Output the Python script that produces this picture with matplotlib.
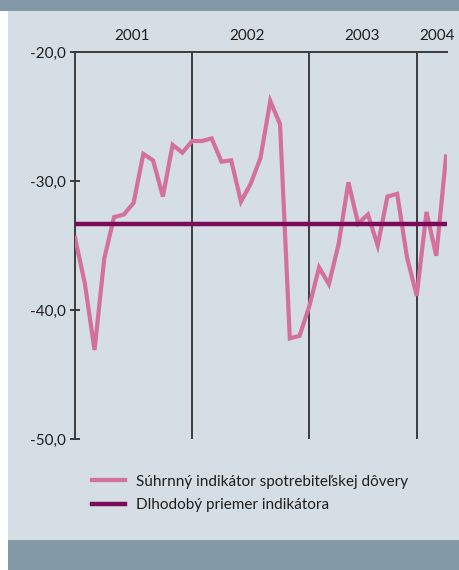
import matplotlib
matplotlib.use("Agg")
import matplotlib.pyplot as plt
from matplotlib.patches import Rectangle
from matplotlib.lines import Line2D

# ---- data ----
indicator = [-34.4, -37.9, -43.1, -36.0, -32.8, -32.6, -31.7, -27.9, -28.4, -31.2,
             -27.2, -27.8, -26.9, -26.9, -26.7, -28.5, -28.4, -31.6, -30.2, -28.2,
             -23.8, -25.6, -42.2, -42.0, -39.7, -36.7, -38.0, -34.9, -30.1, -33.3,
             -32.6, -35.0, -31.2, -31.0, -35.9, -38.9, -32.4, -35.8, -28.1]
long_term_mean = -33.3
year_labels = ["2001", "2002", "2003", "2004"]
year_starts = [12, 24, 35]
y_ticks = [-20.0, -30.0, -40.0, -50.0]
y_tick_labels = ["-20,0", "-30,0", "-40,0", "-50,0"]
legend_labels = ["Súhrnný indikátor spotrebiteľskej dôvery", "Dlhodobý priemer indikátora"]

# ---- style ----
PINK = "#d4709c"
PURPLE = "#7b0a57"
BG = "#d5dee5"
BAND = "#8399a7"
DARK = "#3c3c3c"
TXT = "#1e1e1e"
plt.rcParams['font.family'] = ['Lato', 'DejaVu Sans']
FS = 11

W, H = 459, 570
fig = plt.figure(figsize=(W / 100, H / 100), dpi=100, facecolor="white")

# background panels
fig.patches.append(Rectangle((0, 1 - 11 / H), 1, 11 / H, transform=fig.transFigure,
                             facecolor=BAND, edgecolor="none", zorder=-10))
fig.patches.append(Rectangle((8 / W, 30 / H), 1 - 8 / W, (H - 11 - 30) / H, transform=fig.transFigure,
                             facecolor=BG, edgecolor="none", zorder=-10))
fig.patches.append(Rectangle((8 / W, 0), 1 - 8 / W, 30 / H, transform=fig.transFigure,
                             facecolor=BAND, edgecolor="none", zorder=-10))

left, right = 75 / W, 447 / W
top, bottom = 1 - 52 / H, 1 - 439 / H
ax = fig.add_axes([left, bottom, right - left, top - bottom])
ax.set_facecolor("none")

x = list(range(len(indicator)))
xmax = 38.1
ax.plot(x, indicator, color=PINK, lw=3.0, solid_joinstyle="miter", zorder=3)
ax.plot([0, xmax], [long_term_mean, long_term_mean], color=PURPLE, lw=3.2,
        solid_capstyle="butt", zorder=4)

for xs in year_starts:
    ax.axvline(xs, color=DARK, lw=1.4, zorder=2)

ax.set_xlim(0, xmax)
ax.set_ylim(-50, -20)

for s in ["right", "bottom"]:
    ax.spines[s].set_visible(False)
ax.spines["left"].set_color(DARK)
ax.spines["left"].set_linewidth(1.4)
ax.spines["top"].set_color(DARK)
ax.spines["top"].set_linewidth(1.4)

ax.set_xticks([])
ax.set_yticks(y_ticks)
ax.set_yticklabels(y_tick_labels)
ax.tick_params(axis="y", direction="inout", length=7, width=1.4, color=DARK,
               labelsize=FS, labelcolor=TXT, pad=3)

# year labels
year_label_pos = [5.8, 17.6, 29.4, 37.1]
for lbl, xp in zip(year_labels, year_label_pos):
    ax.text(xp, 1.0 + 16 / (439 - 52), lbl, transform=ax.get_xaxis_transform(),
            ha="center", va="center", fontsize=FS, color=TXT)

handles = [Line2D([], [], color=PINK, lw=3.0), Line2D([], [], color=PURPLE, lw=3.2)]
fig.legend(handles, legend_labels, loc="upper left",
           bbox_to_anchor=(78 / W, 1 - 461 / H), frameon=False,
           fontsize=FS, handlelength=2.2, handletextpad=0.72, labelspacing=0.62,
           labelcolor=TXT)

fig.savefig("out.png", dpi=100, facecolor="white")
